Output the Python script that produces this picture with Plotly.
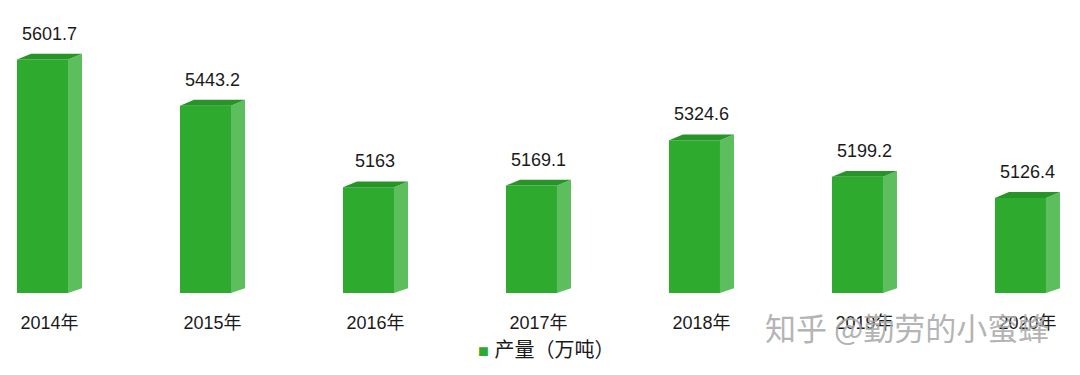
import plotly.graph_objects as go

years = ["2014年", "2015年", "2016年", "2017年", "2018年", "2019年", "2020年"]
production = [5601.7, 5443.2, 5163, 5169.1, 5324.6, 5199.2, 5126.4]
value_labels = ["5601.7", "5443.2", "5163", "5169.1", "5324.6", "5199.2", "5126.4"]
series_name = "产量（万吨）"
watermark = "知乎 @勤劳的小蜜蜂"

Y_MIN, Y_MAX = 4800, 5806
FRONT_L, FRONT_R, BACK_R = -0.1994, 0.1135, 0.1994
BACK_L = FRONT_L + (BACK_R - FRONT_R)
DEPTH = 20  # vertical depth offset in data units

FRONT = "rgb(46,170,46)"
SIDE = "rgb(92,190,92)"
TOP = "rgb(38,148,38)"
FONT = "Liberation Sans, Arial, Noto Sans CJK SC, sans-serif"

idx = list(range(len(years)))

fig = go.Figure()

fig.add_trace(go.Bar(
    x=idx, y=[v - Y_MIN for v in production], base=Y_MIN,
    width=FRONT_R - FRONT_L, offset=FRONT_L,
    marker=dict(color=FRONT, line=dict(width=0)),
    name=series_name, showlegend=False, hoverinfo="skip",
))

sx, sy, tx, ty = [], [], [], []
for c, v in zip(idx, production):
    sx += [c + FRONT_R, c + BACK_R, c + BACK_R, c + FRONT_R, c + FRONT_R, None]
    sy += [Y_MIN, Y_MIN + DEPTH * 0.8, v + DEPTH, v, Y_MIN, None]
    tx += [c + FRONT_L, c + FRONT_R, c + BACK_R, c + BACK_L, c + FRONT_L, None]
    ty += [v, v, v + DEPTH, v + DEPTH, v, None]

fig.add_trace(go.Scatter(x=sx, y=sy, fill="toself", fillcolor=SIDE, mode="lines",
                         line=dict(width=0, color=SIDE), showlegend=False, hoverinfo="skip"))
fig.add_trace(go.Scatter(x=tx, y=ty, fill="toself", fillcolor=TOP, mode="lines",
                         line=dict(width=0, color=TOP), showlegend=False, hoverinfo="skip"))

for c, v, t in zip(idx, production, value_labels):
    fig.add_annotation(x=c, y=v, text=t, showarrow=False, yanchor="bottom", yshift=14,
                       font=dict(size=18, color="#1a1a1a", family=FONT))

# legend (square marker + series name)
fig.add_annotation(x=0.5056, y=-0.195, xref="paper", yref="paper",
                   text=f"<span style='font-size:18px;color:{FRONT}'>■</span> {series_name}",
                   showarrow=False, xanchor="center", yanchor="middle",
                   font=dict(size=20, color="#1a1a1a", family=FONT))

fig.add_annotation(x=0.84, y=-0.115, xref="paper", yref="paper", text=watermark,
                   showarrow=False, xanchor="center", yanchor="middle",
                   font=dict(size=31, color="rgba(170,170,170,0.9)", family="Noto Sans CJK SC"))

fig.update_layout(
    width=1080, height=375,
    margin=dict(l=0, r=0, t=0, b=82),
    paper_bgcolor="white", plot_bgcolor="white",
    xaxis=dict(range=[-0.3037, 6.3223], tickvals=idx, ticktext=years,
               showgrid=False, zeroline=False, showline=False,
               ticks="outside", ticklen=13, tickcolor="white",
               tickfont=dict(size=18, color="#1a1a1a", family=FONT)),
    yaxis=dict(range=[Y_MIN, Y_MAX], visible=False),
    showlegend=False,
)

fig.write_html("out.html", config={"displayModeBar": False},
               post_script="document.body.style.margin='0';")
